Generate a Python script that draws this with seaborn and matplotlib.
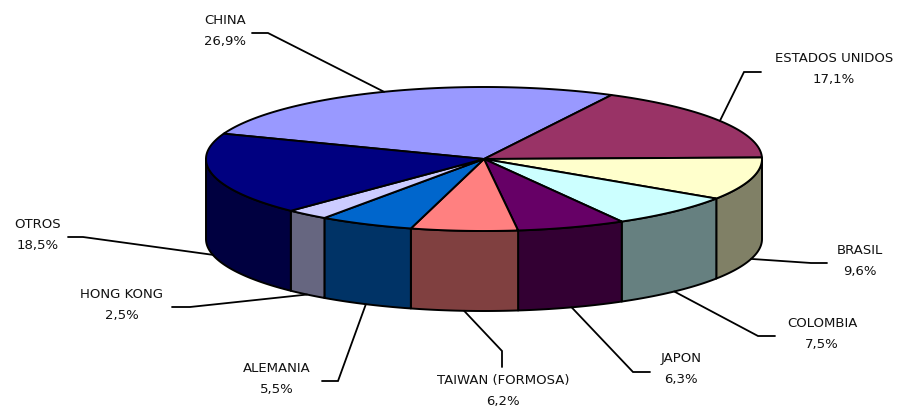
import numpy as np
import matplotlib
matplotlib.use("Agg")
import matplotlib.pyplot as plt
import matplotlib.colors as mcolors
from matplotlib.patches import Polygon
import seaborn as sns

# ---- data ----
categories = ["CHINA", "ESTADOS UNIDOS", "BRASIL", "COLOMBIA", "JAPON",
              "TAIWAN (FORMOSA)", "ALEMANIA", "HONG KONG", "OTROS"]
values = [26.9, 17.1, 9.6, 7.5, 6.3, 6.2, 5.5, 2.5, 18.5]
top_colors = ["#9999FF", "#993366", "#FFFFCC", "#CCFFFF", "#660066",
              "#FF8080", "#0066CC", "#CCCCFF", "#000080"]

# label layout (text centre, leader end, leader elbow) in pixel space
label_pos = [(225, 31), (834, 69), (860, 261), (822, 334), (681, 369),
             (503, 391), (277, 379), (122, 305), (38, 235)]
leader_end = [(252, 34), (761, 73), (827, 264), (775, 337), (650, 373),
              (502, 368), (322, 382), (172, 308), (68, 238)]
leader_elbow = [(268, 34), (744, 73), (811, 264), (758, 337), (633, 373),
                (502, 352), (338, 382), (190, 308), (83, 238)]

sns.set_theme(style="white")
plt.rcParams["font.family"] = ["DejaVu Sans"]

fig = plt.figure(figsize=(9.06, 4.10), dpi=100)
ax = fig.add_axes([0, 0, 1, 1])
ax.set_xlim(0, 906)
ax.set_ylim(410, 0)
ax.axis("off")

cx, cy, a, b, depth = 484, 160, 278, 72, 80
rotation = 1.2
total = sum(values)
spans = np.array(values) / total * 360.0
start = spans[0] + spans[1] + rotation


def pt(t, dz=0.0):
    r = np.radians(t)
    return cx + a * np.cos(r), cy - b * np.sin(r) + dz


his = start - np.concatenate([[0], np.cumsum(spans)[:-1]])
los = his - spans
edge_kw = dict(edgecolor="black", linewidth=1.4, joinstyle="round")

# visible sides (front half)
for hi, lo, col in zip(his, los, top_colors):
    l, h = max(lo, -180.0), min(hi, 0.0)
    if h <= l:
        continue
    ts = np.linspace(h, l, 80)
    upper = [pt(t) for t in ts]
    lower = [pt(t, depth) for t in ts[::-1]]
    side = tuple(np.array(mcolors.to_rgb(col)) * 0.5)
    ax.add_patch(Polygon(upper + lower, closed=True, facecolor=side,
                         zorder=1, **edge_kw))

# top faces
for hi, lo, col in zip(his, los, top_colors):
    ts = np.linspace(hi, lo, 120)
    verts = [(cx, cy)] + [pt(t) for t in ts]
    ax.add_patch(Polygon(verts, closed=True, facecolor=col, zorder=2,
                         **edge_kw))

# labels and leaders
for name, v, hi, lo, lp, le, lb in zip(categories, values, his, los,
                                       label_pos, leader_end, leader_elbow):
    mid = (hi + lo) / 2.0
    s = np.sin(np.radians(mid))
    anchor = pt(mid) if s > 0 else pt(mid, depth)
    xs = [anchor[0], lb[0], le[0]]
    ys = [anchor[1], lb[1], le[1]]
    ax.plot(xs, ys, color="black", linewidth=1.3, zorder=3,
            solid_joinstyle="miter")
    pct = f"{v:.1f}%".replace(".", ",")
    ax.text(lp[0], lp[1], f"{name}\n{pct}", ha="center", va="center",
            multialignment="center", fontsize=9.5, color="#111111",
            linespacing=1.8, zorder=4)

fig.savefig("out.png", dpi=100, facecolor="white")
